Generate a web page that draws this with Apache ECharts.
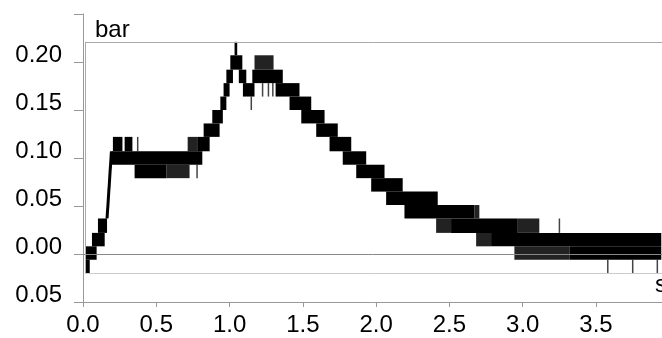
<!DOCTYPE html>
<html>
<head>
<meta charset="utf-8">
<script src="https://cdn.jsdelivr.net/npm/echarts@6/dist/echarts.min.js"></script>
<style>
  html, body { margin: 0; padding: 0; background: #fff; }
  #main { width: 662px; height: 338px; }
</style>
</head>
<body>
<div id="main"></div>
<script>
// quantized signal levels (bar)
const levels = [-0.020, -0.006, 0.008, 0.022, 0.037, 0.051, 0.065, 0.079, 0.093,
  0.107, 0.122, 0.136, 0.150, 0.164, 0.178, 0.192, 0.207, 0.221];

// [t start (s), t end (s), lower level index] -> signal toggling between level k and k+1
const solidBands = [
  [0.016, 0.093, 1], [0.018, 0.046, 0], [0.061, 0.148, 2], [0.102, 0.164, 3],
  [0.204, 0.269, 9], [0.284, 0.337, 9], [0.194, 0.814, 8], [0.352, 0.569, 7],
  [0.784, 0.864, 9], [0.823, 0.932, 10], [0.882, 0.954, 11], [0.937, 0.978, 12],
  [0.959, 1.000, 13], [0.978, 1.023, 14], [1.005, 1.087, 15], [1.034, 1.052, 16],
  [1.063, 1.114, 14], [1.091, 1.170, 13], [1.155, 1.363, 14], [1.314, 1.477, 13],
  [1.409, 1.557, 12], [1.489, 1.648, 11], [1.591, 1.738, 10], [1.682, 1.830, 9],
  [1.772, 1.932, 8], [1.864, 2.057, 7], [1.966, 2.181, 6], [2.068, 2.420, 5],
  [2.193, 2.670, 4], [2.511, 2.966, 3], [2.784, 3.945, 2], [3.318, 3.945, 1]
];

// sections where the signal only flickers into the band
const flickerBands = [
  [0.569, 0.727, 7], [0.714, 0.784, 9], [1.170, 1.300, 15], [2.409, 2.511, 3],
  [2.670, 2.704, 4], [2.682, 2.784, 2], [2.966, 3.113, 3], [2.943, 3.318, 1]
];

// single spikes: [t (s), lower level index]
const spikes = [
  [0.368, 9], [0.773, 7], [1.143, 12], [1.22, 13], [1.26, 13], [1.29, 13],
  [3.245, 3], [3.575, 0], [3.745, 0], [3.913, 0]
];

// the fast rise from the first steps to the plateau
const rise = [[0.164, 0.037], [0.194, 0.107]];

// frame of the recorded range
const frameT = [0.016, 3.95];
const frameV = [levels[0], levels[levels.length - 1]];

const FONT = '"Liberation Sans", Arial, sans-serif';

const toBand = b => [b[0], b[1], levels[b[2]], levels[b[2] + 1]];
const toSpike = s => [s[0], s[0], levels[s[1]], levels[s[1] + 1]];

function renderBand(params, api) {
  const p0 = api.coord([api.value(0), api.value(3)]);
  const p1 = api.coord([api.value(1), api.value(2)]);
  return {
    type: 'rect',
    shape: { x: p0[0], y: p0[1], width: Math.max(p1[0] - p0[0], 1.5), height: p1[1] - p0[1] },
    style: api.style()
  };
}

const chart = echarts.init(document.getElementById('main'));
chart.setOption({
  animation: false,
  grid: { left: 83, right: 0, top: 14, bottom: 36, containLabel: false, outerBoundsMode: 'none' },
  xAxis: {
    type: 'value', min: 0, max: 3.95, interval: 0.5,
    axisLine: { show: true, onZero: false, lineStyle: { color: '#999', width: 1 } },
    axisTick: { show: true, length: 5, lineStyle: { color: '#999' } },
    splitLine: { show: false },
    axisLabel: {
      color: '#000', fontSize: 24, fontFamily: FONT, margin: 11,
      formatter: v => (Math.abs(v * 2 - Math.round(v * 2)) < 1e-6 ? v.toFixed(1) : '')
    }
  },
  yAxis: {
    type: 'value', min: -0.05, max: 0.25, interval: 0.05,
    axisLine: { show: true, onZero: false, lineStyle: { color: '#999', width: 1 } },
    axisTick: { show: true, length: 9, lineStyle: { color: '#999' } },
    splitLine: { show: false },
    axisLabel: {
      color: '#000', fontSize: 24, fontFamily: FONT, margin: 21,
      verticalAlign: 'bottom', lineHeight: 14,
      formatter: v => (v > 0.24 ? '' : Math.abs(v).toFixed(2))
    }
  },
  graphic: [
    { type: 'text', left: 95, top: 18, style: { text: 'bar', font: '24px ' + FONT, fill: '#000' } },
    { type: 'text', left: 655, top: 273, style: { text: 's', font: '24px ' + FONT, fill: '#000' } }
  ],
  series: [
    {
      type: 'line', data: [], silent: true,
      markLine: {
        silent: true, symbol: 'none', label: { show: false },
        data: [
          { yAxis: 0, lineStyle: { color: '#888', width: 1, type: 'solid' } },
          [{ coord: [frameT[0], frameV[1]], lineStyle: { color: '#aaa', width: 1, type: 'solid' } }, { coord: [frameT[1], frameV[1]] }],
          [{ coord: [frameT[0], frameV[0]], lineStyle: { color: '#ccc', width: 1, type: 'solid' } }, { coord: [frameT[1], frameV[0]] }],
          [{ coord: [frameT[0], frameV[0]], lineStyle: { color: '#aaa', width: 1, type: 'solid' } }, { coord: [frameT[0], frameV[1]] }]
        ]
      }
    },
    {
      type: 'custom', renderItem: renderBand, data: flickerBands.map(toBand),
      encode: { x: [0, 1], y: [2, 3] }, itemStyle: { color: '#222' }, silent: true
    },
    {
      type: 'custom', renderItem: renderBand, data: spikes.map(toSpike),
      encode: { x: [0, 1], y: [2, 3] }, itemStyle: { color: '#444' }, silent: true
    },
    {
      type: 'custom', renderItem: renderBand, data: solidBands.map(toBand),
      encode: { x: [0, 1], y: [2, 3] }, itemStyle: { color: '#000' }, silent: true
    },
    {
      type: 'line', data: rise, symbol: 'none', silent: true,
      lineStyle: { color: '#000', width: 3 }
    }
  ]
});
</script>
</body>
</html>
